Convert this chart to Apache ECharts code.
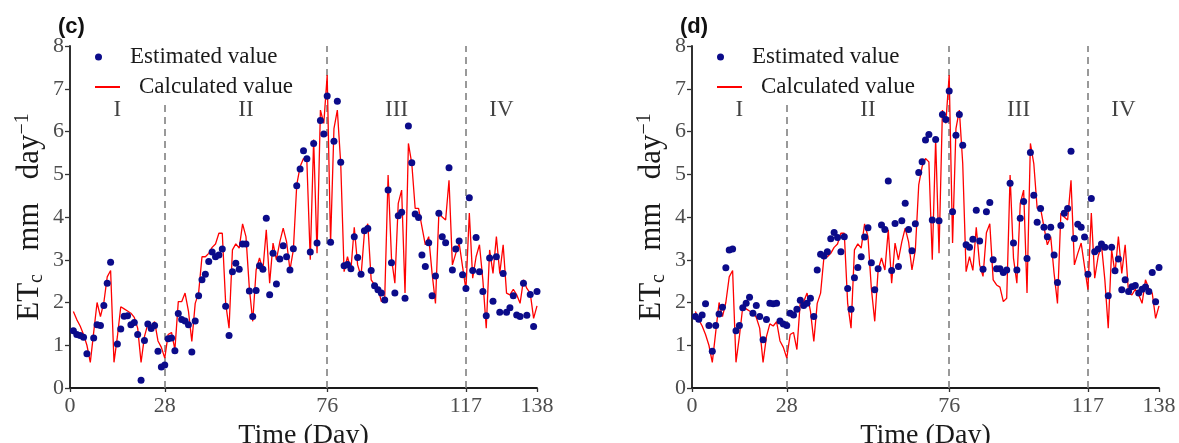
<!DOCTYPE html>
<html>
<head>
<meta charset="utf-8">
<script src="https://cdn.jsdelivr.net/npm/echarts@6/dist/echarts.min.js"></script>
<style>
	html, body { margin: 0; padding: 0; background: #fff; }
	#chart { width: 1179px; height: 443px; }
</style>
</head>
<body>
<div id="chart"></div>
<script>
// ETc per day, days 1..138 (null = no estimate drawn that day)
const calculated = [
	1.79, 1.6, 1.45, 1.25, 1.0, 0.6, 1.3, 2.0, 1.67, 2.0,
	2.6, 2.75, 0.6, 1.2, 1.9, 1.85, 1.8, 1.75, 1.65, 1.4,
	0.6, 1.2, 1.5, 1.45, 1.55, 1.1, 0.95, 0.7, 1.25, 1.3,
	0.9, 2.02, 2.02, 2.22, 1.8, 1.09, 1.98, 2.22, 3.07, 3.07,
	3.15, 3.29, 3.37, 3.62, 3.62, 1.98, 1.4, 3.23, 3.37, 3.27,
	3.84, 3.54, 2.33, 1.56, 2.76, 3.04, 2.76, 3.7, 2.45, 3.39,
	3.0, 3.42, 3.74, 3.42, 2.76, 3.23, 4.75, 5.18, 5.37, 5.29,
	3.0, 5.81, 3.15, 6.5, 6.19, 7.32, 3.39, 6.07, 6.5, 5.25,
	2.72, 3.07, 2.75, 3.76, 2.88, 2.61, 3.63, 3.84, 2.53, 2.41,
	2.36, 2.02, 2.1, 4.98, 3.04, 2.45, 4.32, 4.63, 2.22, 5.72,
	5.25, 4.2, 4.2, 3.77, 3.35, 3.54, 2.68, 1.98, 4.09, 4.0,
	3.93, 4.86, 2.88, 3.15, 3.39, 2.84, 2.3, 4.09, 2.57, 3.07,
	3.35, 2.53, 1.4, 3.23, 2.68, 3.54, 2.68, 3.35, 2.22, 2.18,
	2.31, 2.18, 1.98, 2.53, 2.33, 2.22, 1.63, 1.92,
]

const estimatedC = [
	1.34, 1.25, 1.23, 1.19, 0.80, null, 1.17, 1.48, 1.46, 1.93,
	2.45, 2.94, null, 1.03, 1.38, 1.68, 1.69, 1.48, 1.53, 1.25,
	0.18, 1.11, 1.50, 1.39, 1.46, 0.86, 0.49, 0.54, 1.15, 1.17,
	0.87, 1.74, 1.60, 1.57, 1.48, 0.84, 1.57, 2.16, 2.53, 2.66,
	2.96, 3.18, 3.07, 3.11, 3.25, 1.91, 1.23, 2.72, 2.92, 2.78,
	3.37, 3.37, 2.27, 1.67, 2.28, 2.86, 2.78, 3.97, 2.18, 3.15,
	2.43, 3.02, 3.33, 3.07, 2.76, 3.26, 4.73, 5.12, 5.55, 5.36,
	3.18, 5.72, 3.39, 6.26, 5.94, 6.83, 3.41, 5.77, 6.71, 5.28,
	2.86, 2.89, 2.79, 3.54, 3.05, 2.66, 3.68, 3.73, 2.75, 2.39,
	2.30, 2.22, 2.06, 4.63, 2.93, 2.22, 4.03, 4.11, 2.10, 6.13,
	5.27, 4.07, 3.99, 3.11, 2.84, 3.40, 2.16, 2.62, 4.09, 3.54,
	3.40, 5.15, 2.76, 3.25, 3.44, 2.65, 2.33, 4.45, 2.75, 3.52,
	2.72, 2.26, 1.69, 3.04, 2.03, 3.07, 1.77, 2.68, 1.77, 1.88,
	2.16, 1.71, 1.67, 2.45, 1.70, 2.19, 1.44, 2.26,
]

const estimatedD = [
	1.67, 1.61, 1.71, 1.97, 1.46, 0.86, 1.46, 1.73, 1.89, 2.81,
	3.23, 3.25, 1.34, 1.46, 1.88, 1.98, 2.12, 1.75, 1.93, 1.67,
	1.13, 1.60, 1.98, 1.97, 1.98, 1.57, 1.50, 1.46, 1.75, 1.71,
	1.84, 2.05, 1.93, 1.98, 2.10, 1.67, 2.76, 3.13, 3.09, 3.19,
	3.49, 3.64, 3.52, 3.19, 3.54, 2.33, 1.84, 2.58, 2.82, 3.07,
	3.53, 3.75, 2.93, 2.30, 2.79, 3.81, 3.71, 4.84, 2.75, 3.85,
	2.84, 3.91, 4.32, 3.71, 3.21, 3.84, 5.04, 5.29, 5.80, 5.93,
	3.93, 5.81, 3.91, 6.40, 6.28, 6.95, 4.12, 5.91, 6.40, 5.68,
	3.35, 3.29, 3.48, 4.16, 3.44, 2.78, 4.12, 4.34, 3.00, 2.79,
	2.79, 2.70, 2.76, 4.79, 3.39, 2.76, 3.97, 4.36, 3.03, 5.51,
	4.51, 3.88, 4.20, 3.76, 3.54, 3.76, 3.11, 2.47, 3.80, 4.09,
	4.20, 5.54, 3.50, 3.83, 3.76, 3.53, 2.66, 4.43, 3.19, 3.25,
	3.37, 3.29, 2.16, 3.29, 2.74, 3.02, 2.30, 2.53, 2.26, 2.37,
	2.40, 2.22, 2.31, 2.36, 2.26, 2.70, 2.02, 2.82,
]

const stageBounds = [0, 28, 76, 117, 138]
const stageNames = ['I', 'II', 'III', 'IV']
const panelNames = ['(c)', '(d)']

const serif = 'Liberation Serif'
const dotColor = '#0b0b8a'
const lineColor = '#ff0000'

const pairs = values => values
	.map((v, i) => [i + 1, v])
	.filter(p => p[1] !== null)

const chart = echarts.init(document.getElementById('chart'))

const panels = [estimatedC, estimatedD]
const lefts = [70, 692]

const grid = lefts.map(left => ({ left, top: 46, width: 467, height: 342, outerBoundsMode: 'none' }))

const xAxis = lefts.map((_, i) => ({
	type: 'value',
	gridIndex: i,
	min: 0,
	max: 138,
	name: 'Time (Day)',
	nameLocation: 'middle',
	nameGap: 27,
	nameTextStyle: { fontFamily: serif, fontSize: 28, color: '#1a1a1a' },
	axisLine: { lineStyle: { color: '#1a1a1a', width: 1.8 } },
	axisTick: { customValues: stageBounds, length: 4, lineStyle: { color: '#333', width: 1.3 } },
	axisLabel: { customValues: stageBounds, fontFamily: serif, fontSize: 22, color: '#4d4d4d', margin: 7 },
	splitLine: { show: false },
}))

const yAxis = lefts.map((_, i) => ({
	type: 'value',
	gridIndex: i,
	min: 0,
	max: 8,
	interval: 1,
	name: '{m|ET}{s|c}{m|   mm   day}{p|−1}',
	nameLocation: 'middle',
	nameRotate: 90,
	nameGap: 23,
	nameTextStyle: {
		color: '#1a1a1a',
		rich: {
			m: { fontFamily: serif, fontSize: 31, lineHeight: 34, color: '#1a1a1a' },
			s: { fontFamily: serif, fontSize: 20, lineHeight: 20, verticalAlign: 'bottom', color: '#1a1a1a' },
			p: { fontFamily: serif, fontSize: 20, lineHeight: 20, verticalAlign: 'top', color: '#1a1a1a' },
		},
	},
	axisLine: { show: true, lineStyle: { color: '#1a1a1a', width: 1.8 } },
	axisTick: { show: true, length: 5, lineStyle: { color: '#333', width: 1.3 } },
	axisLabel: { fontFamily: serif, fontSize: 22, color: '#4d4d4d', margin: 6 },
	splitLine: { show: false },
}))

const series = []
panels.forEach((est, i) => {
	series.push({
		name: 'Calculated value',
		type: 'line',
		xAxisIndex: i,
		yAxisIndex: i,
		data: pairs(calculated),
		symbol: 'none',
		lineStyle: { color: lineColor, width: 1.3 },
		itemStyle: { color: lineColor },
		z: 2,
		markLine: {
			silent: true,
			z: 1,
			symbol: ['none', 'none'],
			label: { show: false },
			lineStyle: { color: '#808080', type: [7, 5], width: 1.6 },
			data: stageBounds.slice(1, 4).map(x => ({ xAxis: x })),
		},
	})
	series.push({
		name: 'Estimated value',
		type: 'scatter',
		xAxisIndex: i,
		yAxisIndex: i,
		data: pairs(est),
		symbolSize: 7,
		itemStyle: { color: dotColor, opacity: 1 },
		z: 3,
	})
	// stage labels I..IV, centred over each stage (drawn above the legend boxes)
	series.push({
		type: 'scatter',
		xAxisIndex: i,
		yAxisIndex: i,
		silent: true,
		clip: false,
		symbolSize: 2,
		itemStyle: { color: 'rgba(255,255,255,0)' },
		z: 20,
		label: {
			show: true,
			position: 'top',
			distance: 0,
			formatter: p => p.name,
			fontFamily: serif,
			fontSize: 23,
			lineHeight: 24,
			color: '#111',
		},
		data: stageNames.map((n, k) => ({
			name: n,
			value: [(stageBounds[k] + stageBounds[k + 1]) / 2, 6.2],
		})),
	})
})

const legendText = {
	fontFamily: serif,
	fontSize: 23,
	lineHeight: 26,
	color: '#1a1a1a',
	rich: { g: { width: 14, lineHeight: 26 } },
}

const legend = []
lefts.forEach(left => {
	legend.push({
		left: left + 19,
		top: 39,
		z: 10,
		padding: [5, 16, 3, 6],
		backgroundColor: '#fff',
		itemWidth: 25,
		itemHeight: 7,
		selectedMode: false,
		formatter: name => '{g|}' + name,
		textStyle: legendText,
		data: [{ name: 'Estimated value', icon: 'circle' }],
	})
	legend.push({
		left: left + 19,
		top: 72,
		z: 10,
		padding: [2, 16, 3, 6],
		backgroundColor: '#fff',
		itemWidth: 25,
		itemHeight: 2,
		selectedMode: false,
		formatter: name => '{g|}' + name,
		textStyle: legendText,
		data: [{ name: 'Calculated value', icon: 'rect', itemStyle: { color: lineColor } }],
	})
})

const title = panelNames.map((t, i) => ({
	text: t,
	left: lefts[i] - 12,
	top: 16,
	padding: 0,
	textStyle: { fontFamily: 'Liberation Sans', fontWeight: 'bold', fontSize: 22, color: '#111' },
}))

chart.setOption({
	backgroundColor: '#fff',
	animation: false,
	title,
	legend,
	grid,
	xAxis,
	yAxis,
	series,
})
</script>
</body>
</html>
